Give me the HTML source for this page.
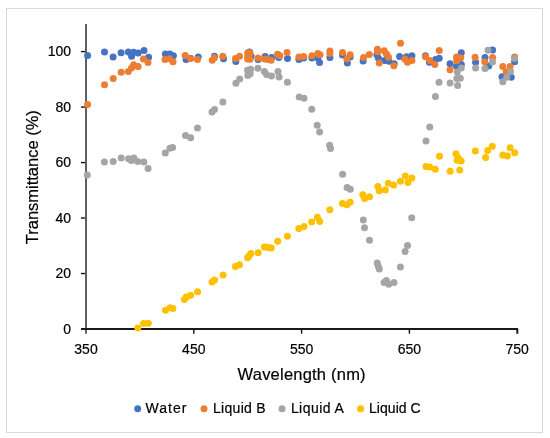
<!DOCTYPE html>
<html><head><meta charset="utf-8"><style>
html,body{margin:0;padding:0;background:#fff;}
svg{display:block;font-family:'Liberation Sans',sans-serif;}
</style></head><body>
<svg width="550" height="438" viewBox="0 0 550 438">
<rect x="6.5" y="8.5" width="536" height="424" fill="#fff" stroke="#d9d9d9" stroke-width="1"/>
<line x1="86" y1="24" x2="86" y2="333.7" stroke="#606060" stroke-width="2"/>
<line x1="81" y1="273.52" x2="85" y2="273.52" stroke="#111" stroke-width="1.4"/>
<line x1="81" y1="218.04" x2="85" y2="218.04" stroke="#111" stroke-width="1.4"/>
<line x1="81" y1="162.56" x2="85" y2="162.56" stroke="#111" stroke-width="1.4"/>
<line x1="81" y1="107.08" x2="85" y2="107.08" stroke="#111" stroke-width="1.4"/>
<line x1="81" y1="51.60" x2="85" y2="51.60" stroke="#111" stroke-width="1.4"/>
<path d="M81 329 H517.3 V333.7" fill="none" stroke="#1a1a1a" stroke-width="2" stroke-linejoin="round" stroke-linecap="butt"/>
<line x1="193.80" y1="329" x2="193.80" y2="333.7" stroke="#111" stroke-width="1.4"/>
<line x1="301.60" y1="329" x2="301.60" y2="333.7" stroke="#111" stroke-width="1.4"/>
<line x1="409.40" y1="329" x2="409.40" y2="333.7" stroke="#111" stroke-width="1.4"/>
<circle cx="87.6" cy="55.5" r="3.5" fill="#4472c4"/>
<circle cx="104.5" cy="52" r="3.5" fill="#4472c4"/>
<circle cx="113.1" cy="57" r="3.5" fill="#4472c4"/>
<circle cx="121.1" cy="52.8" r="3.5" fill="#4472c4"/>
<circle cx="128.4" cy="52.1" r="3.5" fill="#4472c4"/>
<circle cx="131.6" cy="56.3" r="3.5" fill="#4472c4"/>
<circle cx="133.6" cy="52.3" r="3.5" fill="#4472c4"/>
<circle cx="138.2" cy="52.9" r="3.5" fill="#4472c4"/>
<circle cx="144" cy="50.6" r="3.5" fill="#4472c4"/>
<circle cx="148.6" cy="57.2" r="3.5" fill="#4472c4"/>
<circle cx="165.4" cy="54" r="3.5" fill="#4472c4"/>
<circle cx="169.8" cy="53.9" r="3.5" fill="#4472c4"/>
<circle cx="173.4" cy="55.8" r="3.5" fill="#4472c4"/>
<circle cx="186.1" cy="59.4" r="3.5" fill="#4472c4"/>
<circle cx="190.5" cy="58.3" r="3.5" fill="#4472c4"/>
<circle cx="198.2" cy="57" r="3.5" fill="#4472c4"/>
<circle cx="214.5" cy="56.2" r="3.5" fill="#4472c4"/>
<circle cx="223.5" cy="58.8" r="3.5" fill="#4472c4"/>
<circle cx="235.8" cy="61.4" r="3.5" fill="#4472c4"/>
<circle cx="249.5" cy="51.9" r="3.5" fill="#4472c4"/>
<circle cx="251" cy="56" r="3.5" fill="#4472c4"/>
<circle cx="258" cy="59.5" r="3.5" fill="#4472c4"/>
<circle cx="265.1" cy="56.4" r="3.5" fill="#4472c4"/>
<circle cx="271.6" cy="57.5" r="3.5" fill="#4472c4"/>
<circle cx="278.7" cy="57.5" r="3.5" fill="#4472c4"/>
<circle cx="287.5" cy="58.5" r="3.5" fill="#4472c4"/>
<circle cx="298.9" cy="59.5" r="3.5" fill="#4472c4"/>
<circle cx="303.7" cy="58" r="3.5" fill="#4472c4"/>
<circle cx="311.9" cy="58" r="3.5" fill="#4472c4"/>
<circle cx="317.9" cy="58" r="3.5" fill="#4472c4"/>
<circle cx="319.5" cy="62.4" r="3.5" fill="#4472c4"/>
<circle cx="329.9" cy="57.5" r="3.5" fill="#4472c4"/>
<circle cx="342.5" cy="55" r="3.5" fill="#4472c4"/>
<circle cx="350.1" cy="57" r="3.5" fill="#4472c4"/>
<circle cx="347.4" cy="62.9" r="3.5" fill="#4472c4"/>
<circle cx="363.1" cy="60.9" r="3.5" fill="#4472c4"/>
<circle cx="376.9" cy="54.8" r="3.5" fill="#4472c4"/>
<circle cx="378.5" cy="58.3" r="3.5" fill="#4472c4"/>
<circle cx="384.6" cy="60.5" r="3.5" fill="#4472c4"/>
<circle cx="389" cy="61.2" r="3.5" fill="#4472c4"/>
<circle cx="394.2" cy="63.7" r="3.5" fill="#4472c4"/>
<circle cx="399.6" cy="56.4" r="3.5" fill="#4472c4"/>
<circle cx="406.5" cy="56.8" r="3.5" fill="#4472c4"/>
<circle cx="411.9" cy="55.7" r="3.5" fill="#4472c4"/>
<circle cx="425.5" cy="55.7" r="3.5" fill="#4472c4"/>
<circle cx="429.4" cy="62.3" r="3.5" fill="#4472c4"/>
<circle cx="435.5" cy="59.5" r="3.5" fill="#4472c4"/>
<circle cx="439.2" cy="58.2" r="3.5" fill="#4472c4"/>
<circle cx="450" cy="63.8" r="3.5" fill="#4472c4"/>
<circle cx="456.5" cy="66.2" r="3.5" fill="#4472c4"/>
<circle cx="461.3" cy="52.7" r="3.5" fill="#4472c4"/>
<circle cx="461.3" cy="64.5" r="3.5" fill="#4472c4"/>
<circle cx="475.6" cy="62.2" r="3.5" fill="#4472c4"/>
<circle cx="485" cy="57.6" r="3.5" fill="#4472c4"/>
<circle cx="488.7" cy="66.1" r="3.5" fill="#4472c4"/>
<circle cx="492.6" cy="49.9" r="3.5" fill="#4472c4"/>
<circle cx="502" cy="76.7" r="3.5" fill="#4472c4"/>
<circle cx="511.2" cy="77.3" r="3.5" fill="#4472c4"/>
<circle cx="514.6" cy="61.8" r="3.5" fill="#4472c4"/>
<circle cx="87.6" cy="104.5" r="3.5" fill="#ed7d31"/>
<circle cx="104.5" cy="84.7" r="3.5" fill="#ed7d31"/>
<circle cx="113.2" cy="78.5" r="3.5" fill="#ed7d31"/>
<circle cx="121.2" cy="72.2" r="3.5" fill="#ed7d31"/>
<circle cx="128.3" cy="71.4" r="3.5" fill="#ed7d31"/>
<circle cx="131.5" cy="68.1" r="3.5" fill="#ed7d31"/>
<circle cx="133.7" cy="64.8" r="3.5" fill="#ed7d31"/>
<circle cx="138.1" cy="66.5" r="3.5" fill="#ed7d31"/>
<circle cx="143.4" cy="59" r="3.5" fill="#ed7d31"/>
<circle cx="148" cy="62.6" r="3.5" fill="#ed7d31"/>
<circle cx="165" cy="59.5" r="3.5" fill="#ed7d31"/>
<circle cx="169.4" cy="58.7" r="3.5" fill="#ed7d31"/>
<circle cx="173" cy="61.7" r="3.5" fill="#ed7d31"/>
<circle cx="185.2" cy="55.5" r="3.5" fill="#ed7d31"/>
<circle cx="190.5" cy="58.4" r="3.5" fill="#ed7d31"/>
<circle cx="197.5" cy="59.5" r="3.5" fill="#ed7d31"/>
<circle cx="212.2" cy="60.3" r="3.5" fill="#ed7d31"/>
<circle cx="214.4" cy="57.7" r="3.5" fill="#ed7d31"/>
<circle cx="222.7" cy="56.3" r="3.5" fill="#ed7d31"/>
<circle cx="235.5" cy="58.5" r="3.5" fill="#ed7d31"/>
<circle cx="239.5" cy="56.3" r="3.5" fill="#ed7d31"/>
<circle cx="247.6" cy="53" r="3.5" fill="#ed7d31"/>
<circle cx="250" cy="53" r="3.5" fill="#ed7d31"/>
<circle cx="247.8" cy="56.5" r="3.5" fill="#ed7d31"/>
<circle cx="250" cy="59.2" r="3.5" fill="#ed7d31"/>
<circle cx="247.6" cy="59" r="3.5" fill="#ed7d31"/>
<circle cx="258" cy="58" r="3.5" fill="#ed7d31"/>
<circle cx="264.5" cy="59.1" r="3.5" fill="#ed7d31"/>
<circle cx="267.8" cy="59.6" r="3.5" fill="#ed7d31"/>
<circle cx="271.1" cy="60.2" r="3.5" fill="#ed7d31"/>
<circle cx="277.6" cy="54.2" r="3.5" fill="#ed7d31"/>
<circle cx="279.8" cy="55.8" r="3.5" fill="#ed7d31"/>
<circle cx="287.1" cy="52.5" r="3.5" fill="#ed7d31"/>
<circle cx="298.9" cy="56.9" r="3.5" fill="#ed7d31"/>
<circle cx="303.7" cy="56.4" r="3.5" fill="#ed7d31"/>
<circle cx="311.9" cy="55.8" r="3.5" fill="#ed7d31"/>
<circle cx="317.9" cy="53.6" r="3.5" fill="#ed7d31"/>
<circle cx="320" cy="54.7" r="3.5" fill="#ed7d31"/>
<circle cx="329.9" cy="50.9" r="3.5" fill="#ed7d31"/>
<circle cx="329.9" cy="53.6" r="3.5" fill="#ed7d31"/>
<circle cx="342.5" cy="52.5" r="3.5" fill="#ed7d31"/>
<circle cx="350.1" cy="54.7" r="3.5" fill="#ed7d31"/>
<circle cx="346.8" cy="59.1" r="3.5" fill="#ed7d31"/>
<circle cx="363.6" cy="57.6" r="3.5" fill="#ed7d31"/>
<circle cx="369.3" cy="54.6" r="3.5" fill="#ed7d31"/>
<circle cx="377.4" cy="49.2" r="3.5" fill="#ed7d31"/>
<circle cx="377.6" cy="51.8" r="3.5" fill="#ed7d31"/>
<circle cx="379.2" cy="63.1" r="3.5" fill="#ed7d31"/>
<circle cx="384.2" cy="50.8" r="3.5" fill="#ed7d31"/>
<circle cx="386.5" cy="54" r="3.5" fill="#ed7d31"/>
<circle cx="388.5" cy="57.2" r="3.5" fill="#ed7d31"/>
<circle cx="393.8" cy="65.8" r="3.5" fill="#ed7d31"/>
<circle cx="400.5" cy="43.2" r="3.5" fill="#ed7d31"/>
<circle cx="404.8" cy="59" r="3.5" fill="#ed7d31"/>
<circle cx="407.5" cy="62.3" r="3.5" fill="#ed7d31"/>
<circle cx="411.9" cy="60.6" r="3.5" fill="#ed7d31"/>
<circle cx="425.5" cy="56.8" r="3.5" fill="#ed7d31"/>
<circle cx="429.9" cy="60.6" r="3.5" fill="#ed7d31"/>
<circle cx="434.8" cy="64.5" r="3.5" fill="#ed7d31"/>
<circle cx="439.2" cy="50.5" r="3.5" fill="#ed7d31"/>
<circle cx="450" cy="69.7" r="3.5" fill="#ed7d31"/>
<circle cx="456.5" cy="57" r="3.5" fill="#ed7d31"/>
<circle cx="460.8" cy="57.7" r="3.5" fill="#ed7d31"/>
<circle cx="456.7" cy="60.8" r="3.5" fill="#ed7d31"/>
<circle cx="475.1" cy="57.2" r="3.5" fill="#ed7d31"/>
<circle cx="484.7" cy="61.7" r="3.5" fill="#ed7d31"/>
<circle cx="492.6" cy="57.4" r="3.5" fill="#ed7d31"/>
<circle cx="502.8" cy="66.4" r="3.5" fill="#ed7d31"/>
<circle cx="510.1" cy="66.4" r="3.5" fill="#ed7d31"/>
<circle cx="506.2" cy="71.7" r="3.5" fill="#ed7d31"/>
<circle cx="514.6" cy="57.0" r="3.5" fill="#ed7d31"/>
<circle cx="87.3" cy="175.1" r="3.5" fill="#a5a5a5"/>
<circle cx="104.4" cy="162" r="3.5" fill="#a5a5a5"/>
<circle cx="113.2" cy="161.4" r="3.5" fill="#a5a5a5"/>
<circle cx="121.2" cy="158" r="3.5" fill="#a5a5a5"/>
<circle cx="128.5" cy="158.7" r="3.5" fill="#a5a5a5"/>
<circle cx="131.4" cy="160.5" r="3.5" fill="#a5a5a5"/>
<circle cx="133.9" cy="158" r="3.5" fill="#a5a5a5"/>
<circle cx="137.7" cy="161.6" r="3.5" fill="#a5a5a5"/>
<circle cx="143.8" cy="162" r="3.5" fill="#a5a5a5"/>
<circle cx="148.1" cy="168.4" r="3.5" fill="#a5a5a5"/>
<circle cx="165.3" cy="153.1" r="3.5" fill="#a5a5a5"/>
<circle cx="169.9" cy="148.3" r="3.5" fill="#a5a5a5"/>
<circle cx="172.6" cy="147.4" r="3.5" fill="#a5a5a5"/>
<circle cx="185.5" cy="135.4" r="3.5" fill="#a5a5a5"/>
<circle cx="190.6" cy="137.7" r="3.5" fill="#a5a5a5"/>
<circle cx="197.5" cy="128" r="3.5" fill="#a5a5a5"/>
<circle cx="212" cy="112" r="3.5" fill="#a5a5a5"/>
<circle cx="214.5" cy="109.5" r="3.5" fill="#a5a5a5"/>
<circle cx="222.9" cy="102" r="3.5" fill="#a5a5a5"/>
<circle cx="235.9" cy="83.2" r="3.5" fill="#a5a5a5"/>
<circle cx="239.7" cy="79" r="3.5" fill="#a5a5a5"/>
<circle cx="247.5" cy="70.3" r="3.5" fill="#a5a5a5"/>
<circle cx="250.6" cy="69.2" r="3.5" fill="#a5a5a5"/>
<circle cx="247.8" cy="75.5" r="3.5" fill="#a5a5a5"/>
<circle cx="250.2" cy="73.8" r="3.5" fill="#a5a5a5"/>
<circle cx="257.9" cy="68.3" r="3.5" fill="#a5a5a5"/>
<circle cx="264.4" cy="71.6" r="3.5" fill="#a5a5a5"/>
<circle cx="266.5" cy="74.4" r="3.5" fill="#a5a5a5"/>
<circle cx="271.5" cy="76" r="3.5" fill="#a5a5a5"/>
<circle cx="278" cy="71.6" r="3.5" fill="#a5a5a5"/>
<circle cx="279.1" cy="77.1" r="3.5" fill="#a5a5a5"/>
<circle cx="287.4" cy="82.3" r="3.5" fill="#a5a5a5"/>
<circle cx="299.2" cy="96.9" r="3.5" fill="#a5a5a5"/>
<circle cx="304" cy="98.3" r="3.5" fill="#a5a5a5"/>
<circle cx="311.8" cy="109.2" r="3.5" fill="#a5a5a5"/>
<circle cx="317.2" cy="125.3" r="3.5" fill="#a5a5a5"/>
<circle cx="319.6" cy="132.1" r="3.5" fill="#a5a5a5"/>
<circle cx="329.6" cy="145.3" r="3.5" fill="#a5a5a5"/>
<circle cx="330.5" cy="148.5" r="3.5" fill="#a5a5a5"/>
<circle cx="342.6" cy="174.2" r="3.5" fill="#a5a5a5"/>
<circle cx="347.1" cy="187.6" r="3.5" fill="#a5a5a5"/>
<circle cx="350.3" cy="189.2" r="3.5" fill="#a5a5a5"/>
<circle cx="363.3" cy="219.9" r="3.5" fill="#a5a5a5"/>
<circle cx="364.5" cy="227.7" r="3.5" fill="#a5a5a5"/>
<circle cx="369.5" cy="240.2" r="3.5" fill="#a5a5a5"/>
<circle cx="377.2" cy="263" r="3.5" fill="#a5a5a5"/>
<circle cx="378.2" cy="265.9" r="3.5" fill="#a5a5a5"/>
<circle cx="379.3" cy="268.9" r="3.5" fill="#a5a5a5"/>
<circle cx="384" cy="282.6" r="3.5" fill="#a5a5a5"/>
<circle cx="386.4" cy="280.6" r="3.5" fill="#a5a5a5"/>
<circle cx="388.8" cy="284.2" r="3.5" fill="#a5a5a5"/>
<circle cx="394" cy="282.6" r="3.5" fill="#a5a5a5"/>
<circle cx="400.4" cy="266.9" r="3.5" fill="#a5a5a5"/>
<circle cx="405.1" cy="251.5" r="3.5" fill="#a5a5a5"/>
<circle cx="407.5" cy="245.4" r="3.5" fill="#a5a5a5"/>
<circle cx="411.7" cy="217.7" r="3.5" fill="#a5a5a5"/>
<circle cx="426" cy="141" r="3.5" fill="#a5a5a5"/>
<circle cx="429.8" cy="126.9" r="3.5" fill="#a5a5a5"/>
<circle cx="435.4" cy="96.6" r="3.5" fill="#a5a5a5"/>
<circle cx="439" cy="82.3" r="3.5" fill="#a5a5a5"/>
<circle cx="450.1" cy="83" r="3.5" fill="#a5a5a5"/>
<circle cx="456.8" cy="78.5" r="3.5" fill="#a5a5a5"/>
<circle cx="460.3" cy="78.3" r="3.5" fill="#a5a5a5"/>
<circle cx="457.6" cy="85.5" r="3.5" fill="#a5a5a5"/>
<circle cx="457.3" cy="72" r="3.5" fill="#a5a5a5"/>
<circle cx="461.3" cy="68.1" r="3.5" fill="#a5a5a5"/>
<circle cx="475.6" cy="68.1" r="3.5" fill="#a5a5a5"/>
<circle cx="485" cy="68.6" r="3.5" fill="#a5a5a5"/>
<circle cx="488" cy="50.3" r="3.5" fill="#a5a5a5"/>
<circle cx="492.5" cy="61.9" r="3.5" fill="#a5a5a5"/>
<circle cx="502.8" cy="81.8" r="3.5" fill="#a5a5a5"/>
<circle cx="506.8" cy="77.2" r="3.5" fill="#a5a5a5"/>
<circle cx="510.5" cy="71.5" r="3.5" fill="#a5a5a5"/>
<circle cx="514.6" cy="58.4" r="3.5" fill="#a5a5a5"/>
<circle cx="137.8" cy="328" r="3.5" fill="#ffc000"/>
<circle cx="143.6" cy="323.5" r="3.5" fill="#ffc000"/>
<circle cx="148.3" cy="323.3" r="3.5" fill="#ffc000"/>
<circle cx="165.5" cy="310.3" r="3.5" fill="#ffc000"/>
<circle cx="170.1" cy="307.8" r="3.5" fill="#ffc000"/>
<circle cx="172.9" cy="308.4" r="3.5" fill="#ffc000"/>
<circle cx="184.4" cy="299.6" r="3.5" fill="#ffc000"/>
<circle cx="186.3" cy="297.1" r="3.5" fill="#ffc000"/>
<circle cx="190.7" cy="295.2" r="3.5" fill="#ffc000"/>
<circle cx="197.6" cy="291.8" r="3.5" fill="#ffc000"/>
<circle cx="212" cy="282" r="3.5" fill="#ffc000"/>
<circle cx="214.5" cy="280.1" r="3.5" fill="#ffc000"/>
<circle cx="223.1" cy="275.1" r="3.5" fill="#ffc000"/>
<circle cx="235.4" cy="266.4" r="3.5" fill="#ffc000"/>
<circle cx="239.4" cy="264.8" r="3.5" fill="#ffc000"/>
<circle cx="247.6" cy="257.7" r="3.5" fill="#ffc000"/>
<circle cx="249.1" cy="256.1" r="3.5" fill="#ffc000"/>
<circle cx="250.9" cy="253.5" r="3.5" fill="#ffc000"/>
<circle cx="258.2" cy="252.8" r="3.5" fill="#ffc000"/>
<circle cx="264.4" cy="247" r="3.5" fill="#ffc000"/>
<circle cx="268" cy="247.4" r="3.5" fill="#ffc000"/>
<circle cx="271.3" cy="248.1" r="3.5" fill="#ffc000"/>
<circle cx="277.7" cy="241.2" r="3.5" fill="#ffc000"/>
<circle cx="287.4" cy="236.3" r="3.5" fill="#ffc000"/>
<circle cx="298.8" cy="228.6" r="3.5" fill="#ffc000"/>
<circle cx="304" cy="226.4" r="3.5" fill="#ffc000"/>
<circle cx="311.7" cy="222.1" r="3.5" fill="#ffc000"/>
<circle cx="317.4" cy="217.2" r="3.5" fill="#ffc000"/>
<circle cx="319.7" cy="221.5" r="3.5" fill="#ffc000"/>
<circle cx="329.9" cy="209.8" r="3.5" fill="#ffc000"/>
<circle cx="342.4" cy="203.5" r="3.5" fill="#ffc000"/>
<circle cx="346.9" cy="204.8" r="3.5" fill="#ffc000"/>
<circle cx="350.1" cy="202.2" r="3.5" fill="#ffc000"/>
<circle cx="362.8" cy="194.7" r="3.5" fill="#ffc000"/>
<circle cx="364.6" cy="198.5" r="3.5" fill="#ffc000"/>
<circle cx="369.5" cy="196.7" r="3.5" fill="#ffc000"/>
<circle cx="377.9" cy="186.4" r="3.5" fill="#ffc000"/>
<circle cx="379.2" cy="190.8" r="3.5" fill="#ffc000"/>
<circle cx="385.3" cy="189.9" r="3.5" fill="#ffc000"/>
<circle cx="388.3" cy="183.3" r="3.5" fill="#ffc000"/>
<circle cx="393.6" cy="185.1" r="3.5" fill="#ffc000"/>
<circle cx="400.5" cy="181.2" r="3.5" fill="#ffc000"/>
<circle cx="405.3" cy="176" r="3.5" fill="#ffc000"/>
<circle cx="408" cy="182.5" r="3.5" fill="#ffc000"/>
<circle cx="411.9" cy="178.1" r="3.5" fill="#ffc000"/>
<circle cx="426" cy="166.4" r="3.5" fill="#ffc000"/>
<circle cx="429.7" cy="167" r="3.5" fill="#ffc000"/>
<circle cx="435.3" cy="169.2" r="3.5" fill="#ffc000"/>
<circle cx="439.5" cy="156.2" r="3.5" fill="#ffc000"/>
<circle cx="450.1" cy="171.2" r="3.5" fill="#ffc000"/>
<circle cx="456" cy="153.7" r="3.5" fill="#ffc000"/>
<circle cx="458.3" cy="157.9" r="3.5" fill="#ffc000"/>
<circle cx="457.1" cy="160.2" r="3.5" fill="#ffc000"/>
<circle cx="461.1" cy="161" r="3.5" fill="#ffc000"/>
<circle cx="459.7" cy="169.9" r="3.5" fill="#ffc000"/>
<circle cx="475.4" cy="150.9" r="3.5" fill="#ffc000"/>
<circle cx="485.6" cy="157.4" r="3.5" fill="#ffc000"/>
<circle cx="487.7" cy="150.6" r="3.5" fill="#ffc000"/>
<circle cx="492.3" cy="146.3" r="3.5" fill="#ffc000"/>
<circle cx="502.8" cy="155.1" r="3.5" fill="#ffc000"/>
<circle cx="507.4" cy="156" r="3.5" fill="#ffc000"/>
<circle cx="510.1" cy="147.8" r="3.5" fill="#ffc000"/>
<circle cx="514.7" cy="152.8" r="3.5" fill="#ffc000"/>
<circle cx="137.7" cy="408.8" r="3.5" fill="#4472c4"/>
<circle cx="204" cy="408.8" r="3.5" fill="#ed7d31"/>
<circle cx="282" cy="408.8" r="3.5" fill="#a5a5a5"/>
<circle cx="360.6" cy="408.8" r="3.5" fill="#ffc000"/>
<g style="filter:grayscale(1)" stroke="#000" stroke-width="0.2">
<text x="71" y="333.70" text-anchor="end" font-size="14" fill="#000">0</text>
<text x="71" y="278.22" text-anchor="end" font-size="14" fill="#000">20</text>
<text x="71" y="222.74" text-anchor="end" font-size="14" fill="#000">40</text>
<text x="71" y="167.26" text-anchor="end" font-size="14" fill="#000">60</text>
<text x="71" y="111.78" text-anchor="end" font-size="14" fill="#000">80</text>
<text x="71" y="56.30" text-anchor="end" font-size="14" fill="#000">100</text>
<text x="86.00" y="354.2" text-anchor="middle" font-size="14" fill="#000">350</text>
<text x="193.80" y="354.2" text-anchor="middle" font-size="14" fill="#000">450</text>
<text x="301.60" y="354.2" text-anchor="middle" font-size="14" fill="#000">550</text>
<text x="409.40" y="354.2" text-anchor="middle" font-size="14" fill="#000">650</text>
<text x="517.20" y="354.2" text-anchor="middle" font-size="14" fill="#000">750</text>
<text x="237.6" y="379.6" font-size="16.5" fill="#000" textLength="128" lengthAdjust="spacing">Wavelength (nm)</text>
<text transform="translate(38.4,244.2) rotate(-90)" x="0" y="0" font-size="16.5" fill="#000" textLength="134" lengthAdjust="spacing">Transmittance (%)</text>
<text x="145.6" y="412.8" font-size="14" fill="#000" textLength="40.8" lengthAdjust="spacing">Water</text>
<text x="212.9" y="412.8" font-size="14" fill="#000" textLength="52.8" lengthAdjust="spacing">Liquid B</text>
<text x="290.9" y="412.8" font-size="14" fill="#000" textLength="52.9" lengthAdjust="spacing">Liquid A</text>
<text x="369.0" y="412.8" font-size="14" fill="#000" textLength="51.7" lengthAdjust="spacing">Liquid C</text>
</g>
</svg>
</body></html>
